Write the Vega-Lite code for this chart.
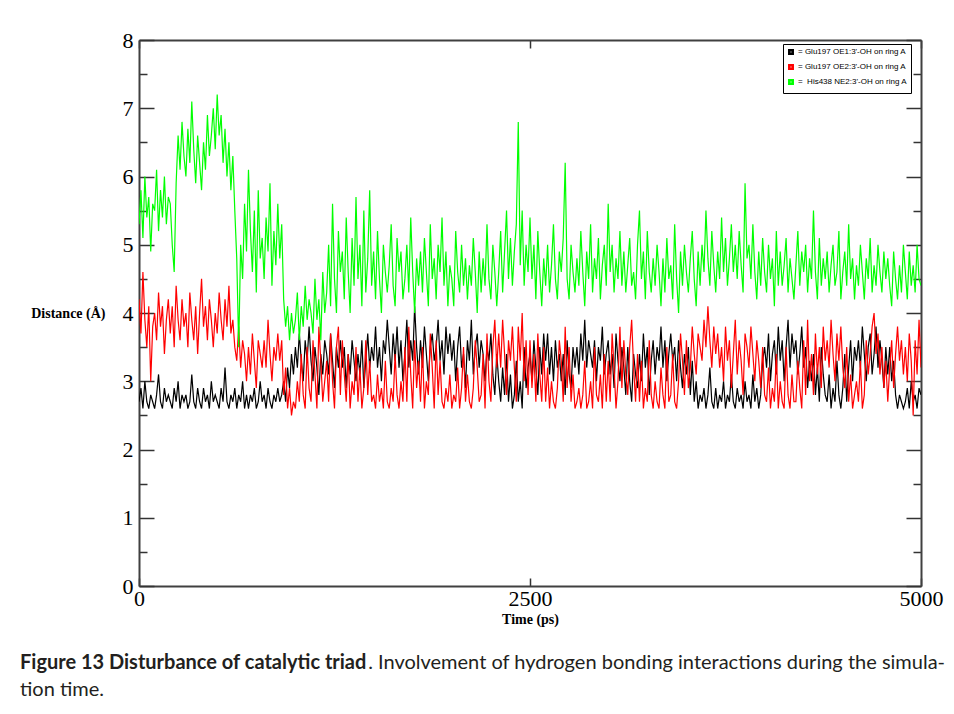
{
"$schema": "https://vega.github.io/schema/vega-lite/v6.json",
"width": 782, "height": 546,
"autosize": {"type": "none"},
"padding": {"left": 139, "top": 40, "right": 33, "bottom": 128},
"background": "white",
"config": {"view": {"stroke": null}, "axis": {"grid": false, "domainColor": "#404040", "domainWidth": 2, "tickColor": "#333333", "tickWidth": 1.5, "labelFont": "Liberation Serif", "labelFontSize": 22, "labelColor": "#000000", "titleFont": "Liberation Serif", "titleFontSize": 14, "titleFontWeight": "bold", "titleColor": "#000000"}},
"title": {"text": "Figure 13 Disturbance of catalytic triad", "subtitle": ["\u200b\u00a0\u00a0\u00a0\u00a0\u00a0\u00a0\u00a0\u00a0\u00a0\u00a0\u00a0\u00a0\u00a0\u00a0\u00a0\u00a0\u00a0\u00a0\u00a0\u00a0\u00a0\u00a0\u00a0\u00a0\u00a0\u00a0\u00a0\u00a0\u00a0\u00a0\u00a0\u00a0\u00a0\u00a0\u00a0\u00a0\u00a0\u00a0\u00a0\u00a0\u00a0\u00a0\u00a0\u00a0\u00a0\u00a0\u00a0\u00a0\u00a0\u00a0\u00a0\u00a0\u00a0\u00a0\u00a0\u00a0\u00a0\u00a0\u00a0\u00a0\u00a0\u00a0\u00a0\u00a0\u00a0\u00a0\u00a0\u00a0. Involvement of hydrogen bonding interactions during the simula-", "tion time."], "orient": "bottom", "anchor": "start", "frame": "group", "dx": -119, "offset": 27, "font": "Lato", "fontSize": 20, "fontWeight": "bold", "color": "#231f20", "subtitleFont": "Lato", "subtitleFontSize": 20, "subtitleFontWeight": "normal", "subtitleColor": "#231f20", "subtitlePadding": -20, "subtitleLineHeight": 27, "baseline": "top"},
"data": {"values": [
{"t":0,"a":2.7,"b":4.2,"c":5.3},{"t":12.5,"a":2.9,"b":3.7,"c":5.8},{"t":25,"a":2.6,"b":4.6,"c":5.1},{"t":37.5,"a":3.0,"b":3.9,"c":6.0},{"t":50,"a":2.7,"b":3.5,"c":5.4},{"t":62.5,"a":2.6,"b":4.1,"c":5.7},{"t":75,"a":2.8,"b":3.0,"c":4.9},{"t":87.5,"a":2.7,"b":3.8,"c":5.6},
{"t":100,"a":2.6,"b":4.0,"c":5.5},{"t":112.5,"a":2.8,"b":3.6,"c":6.1},{"t":125,"a":3.1,"b":4.3,"c":5.2},{"t":137.5,"a":2.7,"b":3.8,"c":5.8},{"t":150,"a":2.6,"b":4.1,"c":5.4},{"t":162.5,"a":2.9,"b":3.4,"c":6.0},{"t":175,"a":2.7,"b":3.9,"c":5.3},{"t":187.5,"a":2.8,"b":4.2,"c":5.7},
{"t":200,"a":2.7,"b":3.7,"c":5.6},{"t":212.5,"a":2.6,"b":4.1,"c":5.0},{"t":225,"a":2.9,"b":3.5,"c":4.6},{"t":237.5,"a":2.7,"b":4.4,"c":5.9},{"t":250,"a":3.0,"b":3.9,"c":6.6},{"t":262.5,"a":2.6,"b":3.6,"c":6.1},{"t":275,"a":2.8,"b":4.2,"c":6.8},{"t":287.5,"a":2.7,"b":3.8,"c":6.3},
{"t":300,"a":2.8,"b":4.0,"c":6.0},{"t":312.5,"a":2.6,"b":3.5,"c":6.7},{"t":325,"a":2.7,"b":4.3,"c":6.2},{"t":337.5,"a":3.1,"b":3.9,"c":7.1},{"t":350,"a":2.7,"b":3.6,"c":6.4},{"t":362.5,"a":2.6,"b":4.1,"c":5.9},{"t":375,"a":2.9,"b":3.4,"c":6.6},{"t":387.5,"a":2.7,"b":4.0,"c":6.2},
{"t":400,"a":2.6,"b":4.5,"c":5.8},{"t":412.5,"a":2.9,"b":3.8,"c":6.5},{"t":425,"a":2.7,"b":4.1,"c":6.1},{"t":437.5,"a":2.8,"b":3.6,"c":6.9},{"t":450,"a":2.6,"b":4.2,"c":6.3},{"t":462.5,"a":3.0,"b":3.9,"c":6.6},{"t":475,"a":2.7,"b":3.5,"c":7.0},{"t":487.5,"a":2.8,"b":4.0,"c":6.4},
{"t":500,"a":2.7,"b":3.7,"c":7.2},{"t":512.5,"a":2.6,"b":4.3,"c":6.6},{"t":525,"a":2.9,"b":3.9,"c":6.9},{"t":537.5,"a":2.7,"b":3.6,"c":6.2},{"t":550,"a":3.2,"b":4.2,"c":6.7},{"t":562.5,"a":2.7,"b":3.8,"c":6.0},{"t":575,"a":2.6,"b":4.4,"c":6.5},{"t":587.5,"a":2.8,"b":3.7,"c":5.8},
{"t":600,"a":2.7,"b":3.9,"c":6.3},{"t":612.5,"a":2.9,"b":3.5,"c":5.5},{"t":625,"a":2.6,"b":3.3,"c":4.8},{"t":637.5,"a":2.8,"b":3.8,"c":3.5},{"t":650,"a":2.7,"b":3.2,"c":5.0},{"t":662.5,"a":3.0,"b":3.6,"c":4.5},{"t":675,"a":2.6,"b":3.4,"c":5.6},{"t":687.5,"a":2.8,"b":3.0,"c":4.9},
{"t":700,"a":2.6,"b":3.5,"c":6.1},{"t":712.5,"a":2.8,"b":3.1,"c":5.2},{"t":725,"a":2.7,"b":3.7,"c":4.6},{"t":737.5,"a":2.9,"b":3.3,"c":5.5},{"t":750,"a":2.6,"b":2.9,"c":4.3},{"t":762.5,"a":2.7,"b":3.6,"c":5.8},{"t":775,"a":3.0,"b":3.4,"c":4.8},{"t":787.5,"a":2.7,"b":3.2,"c":5.1},
{"t":800,"a":2.8,"b":3.6,"c":4.5},{"t":812.5,"a":2.6,"b":3.2,"c":5.4},{"t":825,"a":2.9,"b":3.9,"c":4.9},{"t":837.5,"a":2.7,"b":3.4,"c":5.9},{"t":850,"a":2.6,"b":3.0,"c":4.4},{"t":862.5,"a":2.8,"b":3.5,"c":5.2},{"t":875,"a":2.7,"b":3.3,"c":4.7},{"t":887.5,"a":2.9,"b":3.7,"c":5.6},
{"t":900,"a":2.7,"b":3.3,"c":4.8},{"t":912.5,"a":2.8,"b":3.6,"c":5.3},{"t":925,"a":3.0,"b":2.8,"c":4.2},{"t":937.5,"a":2.7,"b":3.2,"c":3.8},{"t":950,"a":3.2,"b":2.6,"c":4.1},{"t":962.5,"a":2.9,"b":2.9,"c":3.6},{"t":975,"a":3.4,"b":2.5,"c":4.0},{"t":987.5,"a":3.1,"b":2.7,"c":3.7},
{"t":1000,"a":3.5,"b":2.6,"c":3.9},{"t":1012.5,"a":3.2,"b":3.0,"c":4.3},{"t":1025,"a":3.7,"b":2.7,"c":3.6},{"t":1037.5,"a":3.3,"b":3.4,"c":4.1},{"t":1050,"a":3.0,"b":2.8,"c":3.8},{"t":1062.5,"a":3.6,"b":2.6,"c":4.4},{"t":1075,"a":3.3,"b":3.5,"c":3.9},{"t":1087.5,"a":3.8,"b":2.9,"c":4.2},
{"t":1100,"a":3.3,"b":2.7,"c":4.0},{"t":1112.5,"a":3.0,"b":3.6,"c":3.7},{"t":1125,"a":3.5,"b":3.1,"c":4.5},{"t":1137.5,"a":3.2,"b":2.6,"c":3.9},{"t":1150,"a":2.8,"b":3.8,"c":4.2},{"t":1162.5,"a":3.4,"b":3.3,"c":3.6},{"t":1175,"a":3.1,"b":2.7,"c":4.6},{"t":1187.5,"a":3.6,"b":3.0,"c":4.0},
{"t":1200,"a":3.4,"b":3.3,"c":4.3},{"t":1212.5,"a":3.1,"b":2.7,"c":5.0},{"t":1225,"a":3.7,"b":3.7,"c":4.1},{"t":1237.5,"a":3.3,"b":3.0,"c":5.6},{"t":1250,"a":2.9,"b":2.6,"c":4.5},{"t":1262.5,"a":3.5,"b":3.5,"c":4.0},{"t":1275,"a":3.2,"b":3.8,"c":5.2},{"t":1287.5,"a":3.6,"b":2.8,"c":4.6},
{"t":1300,"a":3.2,"b":3.6,"c":4.9},{"t":1312.5,"a":3.5,"b":3.1,"c":4.2},{"t":1325,"a":2.9,"b":2.7,"c":5.4},{"t":1337.5,"a":3.4,"b":3.4,"c":4.6},{"t":1350,"a":3.1,"b":2.6,"c":4.0},{"t":1362.5,"a":3.6,"b":3.0,"c":5.1},{"t":1375,"a":3.3,"b":2.8,"c":4.4},{"t":1387.5,"a":3.0,"b":3.5,"c":5.7},
{"t":1400,"a":3.4,"b":2.7,"c":4.5},{"t":1412.5,"a":3.1,"b":3.2,"c":5.0},{"t":1425,"a":3.6,"b":2.6,"c":4.1},{"t":1437.5,"a":2.9,"b":2.9,"c":5.5},{"t":1450,"a":3.3,"b":3.6,"c":4.3},{"t":1462.5,"a":3.7,"b":2.8,"c":4.8},{"t":1475,"a":3.2,"b":3.3,"c":5.8},{"t":1487.5,"a":3.5,"b":2.7,"c":4.4},
{"t":1500,"a":3.3,"b":2.8,"c":4.9},{"t":1512.5,"a":3.8,"b":2.6,"c":4.2},{"t":1525,"a":3.2,"b":3.1,"c":5.2},{"t":1537.5,"a":3.5,"b":2.7,"c":4.5},{"t":1550,"a":3.0,"b":2.9,"c":4.0},{"t":1562.5,"a":3.6,"b":2.6,"c":5.0},{"t":1575,"a":3.4,"b":3.3,"c":4.6},{"t":1587.5,"a":3.9,"b":2.7,"c":4.3},
{"t":1600,"a":3.5,"b":2.6,"c":4.7},{"t":1612.5,"a":3.1,"b":2.9,"c":5.3},{"t":1625,"a":3.7,"b":2.7,"c":4.4},{"t":1637.5,"a":3.3,"b":3.4,"c":4.1},{"t":1650,"a":3.8,"b":2.8,"c":5.1},{"t":1662.5,"a":3.2,"b":2.6,"c":4.6},{"t":1675,"a":3.6,"b":3.0,"c":4.9},{"t":1687.5,"a":3.0,"b":2.7,"c":4.2},
{"t":1700,"a":3.4,"b":3.5,"c":4.5},{"t":1712.5,"a":3.9,"b":2.7,"c":5.0},{"t":1725,"a":3.2,"b":3.8,"c":4.3},{"t":1737.5,"a":3.6,"b":3.1,"c":5.4},{"t":1750,"a":3.3,"b":2.6,"c":4.6},{"t":1762.5,"a":4.1,"b":3.6,"c":4.0},{"t":1775,"a":3.5,"b":2.9,"c":4.8},{"t":1787.5,"a":3.1,"b":3.3,"c":4.4},
{"t":1800,"a":3.6,"b":2.7,"c":4.9},{"t":1812.5,"a":3.2,"b":3.5,"c":4.3},{"t":1825,"a":3.8,"b":2.6,"c":5.1},{"t":1837.5,"a":3.4,"b":3.0,"c":4.6},{"t":1850,"a":3.0,"b":2.8,"c":4.1},{"t":1862.5,"a":3.5,"b":3.7,"c":5.3},{"t":1875,"a":3.7,"b":3.2,"c":4.5},{"t":1887.5,"a":3.3,"b":2.6,"c":4.8},
{"t":1900,"a":3.5,"b":3.6,"c":4.2},{"t":1912.5,"a":3.9,"b":2.8,"c":5.0},{"t":1925,"a":3.3,"b":3.3,"c":4.6},{"t":1937.5,"a":3.6,"b":2.7,"c":5.4},{"t":1950,"a":3.1,"b":2.6,"c":4.4},{"t":1962.5,"a":3.8,"b":2.9,"c":4.9},{"t":1975,"a":3.4,"b":2.7,"c":4.1},{"t":1987.5,"a":3.7,"b":3.1,"c":4.7},
{"t":2000,"a":3.3,"b":2.6,"c":4.5},{"t":2012.5,"a":3.6,"b":2.8,"c":4.1},{"t":2025,"a":3.0,"b":2.7,"c":5.2},{"t":2037.5,"a":3.5,"b":3.2,"c":4.6},{"t":2050,"a":3.8,"b":2.6,"c":4.3},{"t":2062.5,"a":3.2,"b":2.9,"c":5.0},{"t":2075,"a":3.4,"b":3.5,"c":4.4},{"t":2087.5,"a":2.9,"b":2.7,"c":4.8},
{"t":2100,"a":3.6,"b":3.1,"c":4.2},{"t":2112.5,"a":3.3,"b":2.7,"c":4.7},{"t":2125,"a":3.9,"b":2.6,"c":4.4},{"t":2137.5,"a":3.1,"b":2.9,"c":5.1},{"t":2150,"a":3.5,"b":3.6,"c":4.6},{"t":2162.5,"a":3.7,"b":3.2,"c":4.0},{"t":2175,"a":3.2,"b":2.7,"c":4.9},{"t":2187.5,"a":3.6,"b":2.8,"c":4.3},
{"t":2200,"a":3.4,"b":3.4,"c":4.8},{"t":2212.5,"a":3.0,"b":2.6,"c":4.4},{"t":2225,"a":3.5,"b":3.7,"c":5.3},{"t":2237.5,"a":3.3,"b":3.0,"c":4.5},{"t":2250,"a":3.7,"b":2.7,"c":4.2},{"t":2262.5,"a":3.1,"b":3.5,"c":5.0},{"t":2275,"a":2.8,"b":3.9,"c":4.6},{"t":2287.5,"a":3.4,"b":3.2,"c":4.1},
{"t":2300,"a":3.0,"b":3.7,"c":4.6},{"t":2312.5,"a":2.7,"b":3.2,"c":5.2},{"t":2325,"a":3.2,"b":3.9,"c":4.3},{"t":2337.5,"a":2.8,"b":3.4,"c":4.9},{"t":2350,"a":3.4,"b":2.8,"c":5.5},{"t":2362.5,"a":2.7,"b":3.6,"c":4.5},{"t":2375,"a":3.1,"b":3.3,"c":5.1},{"t":2387.5,"a":2.6,"b":3.8,"c":4.4},
{"t":2400,"a":2.8,"b":3.2,"c":4.9},{"t":2412.5,"a":3.3,"b":2.7,"c":5.3},{"t":2425,"a":2.7,"b":3.8,"c":6.8},{"t":2437.5,"a":3.0,"b":3.3,"c":4.7},{"t":2450,"a":2.6,"b":4.0,"c":5.5},{"t":2462.5,"a":3.5,"b":3.0,"c":4.4},{"t":2475,"a":2.9,"b":3.6,"c":5.0},{"t":2487.5,"a":3.2,"b":2.8,"c":4.6},
{"t":2500,"a":3.4,"b":3.6,"c":5.4},{"t":2512.5,"a":3.0,"b":2.9,"c":4.5},{"t":2525,"a":3.6,"b":3.4,"c":5.0},{"t":2537.5,"a":3.2,"b":2.7,"c":4.2},{"t":2550,"a":2.8,"b":3.7,"c":5.2},{"t":2562.5,"a":3.5,"b":3.1,"c":4.6},{"t":2575,"a":3.1,"b":2.7,"c":4.1},{"t":2587.5,"a":3.7,"b":3.5,"c":4.8},
{"t":2600,"a":3.3,"b":2.7,"c":4.4},{"t":2612.5,"a":3.7,"b":3.2,"c":5.0},{"t":2625,"a":3.1,"b":2.6,"c":4.3},{"t":2637.5,"a":3.5,"b":3.0,"c":4.7},{"t":2650,"a":3.0,"b":2.7,"c":5.3},{"t":2662.5,"a":3.6,"b":2.6,"c":4.5},{"t":2675,"a":3.2,"b":2.9,"c":4.2},{"t":2687.5,"a":3.4,"b":3.6,"c":4.9},
{"t":2700,"a":3.0,"b":3.3,"c":4.6},{"t":2712.5,"a":3.4,"b":2.7,"c":5.1},{"t":2725,"a":2.8,"b":3.8,"c":6.2},{"t":2737.5,"a":3.6,"b":2.9,"c":4.5},{"t":2750,"a":3.1,"b":3.5,"c":4.2},{"t":2762.5,"a":2.9,"b":2.7,"c":5.0},{"t":2775,"a":3.5,"b":3.1,"c":4.6},{"t":2787.5,"a":3.2,"b":2.6,"c":4.3},
{"t":2800,"a":3.5,"b":2.7,"c":4.8},{"t":2812.5,"a":3.1,"b":2.9,"c":4.4},{"t":2825,"a":3.7,"b":2.6,"c":5.2},{"t":2837.5,"a":3.3,"b":2.8,"c":4.6},{"t":2850,"a":3.9,"b":3.3,"c":4.1},{"t":2862.5,"a":3.2,"b":2.6,"c":4.9},{"t":2875,"a":3.6,"b":2.7,"c":4.5},{"t":2887.5,"a":3.4,"b":3.0,"c":5.3},
{"t":2900,"a":3.2,"b":2.6,"c":4.3},{"t":2912.5,"a":3.6,"b":3.5,"c":4.8},{"t":2925,"a":3.0,"b":2.8,"c":4.5},{"t":2937.5,"a":3.5,"b":2.7,"c":5.1},{"t":2950,"a":3.3,"b":3.1,"c":4.2},{"t":2962.5,"a":3.8,"b":2.6,"c":4.7},{"t":2975,"a":3.1,"b":3.4,"c":5.0},{"t":2987.5,"a":3.4,"b":2.7,"c":4.4},
{"t":3000,"a":3.6,"b":3.3,"c":5.6},{"t":3012.5,"a":3.1,"b":2.7,"c":4.6},{"t":3025,"a":3.4,"b":3.7,"c":5.0},{"t":3037.5,"a":2.9,"b":3.2,"c":4.3},{"t":3050,"a":3.7,"b":2.6,"c":4.8},{"t":3062.5,"a":3.3,"b":3.0,"c":4.5},{"t":3075,"a":3.0,"b":3.8,"c":5.2},{"t":3087.5,"a":3.5,"b":2.9,"c":4.4},
{"t":3100,"a":3.2,"b":3.6,"c":4.9},{"t":3112.5,"a":2.8,"b":3.1,"c":4.3},{"t":3125,"a":3.5,"b":2.8,"c":4.7},{"t":3137.5,"a":3.0,"b":3.5,"c":5.1},{"t":3150,"a":2.7,"b":3.9,"c":4.4},{"t":3162.5,"a":3.4,"b":3.2,"c":4.6},{"t":3175,"a":3.1,"b":2.7,"c":4.2},{"t":3187.5,"a":2.9,"b":3.4,"c":5.0},
{"t":3200,"a":3.4,"b":2.7,"c":5.5},{"t":3212.5,"a":3.0,"b":3.3,"c":4.5},{"t":3225,"a":3.7,"b":2.6,"c":4.9},{"t":3237.5,"a":3.2,"b":2.9,"c":4.2},{"t":3250,"a":3.5,"b":2.7,"c":5.2},{"t":3262.5,"a":2.8,"b":3.6,"c":4.6},{"t":3275,"a":3.3,"b":2.8,"c":4.3},{"t":3287.5,"a":3.6,"b":2.6,"c":4.8},
{"t":3300,"a":3.1,"b":3.0,"c":4.4},{"t":3312.5,"a":3.5,"b":2.7,"c":5.0},{"t":3325,"a":3.3,"b":2.6,"c":4.6},{"t":3337.5,"a":3.8,"b":3.2,"c":4.1},{"t":3350,"a":3.2,"b":2.8,"c":4.8},{"t":3362.5,"a":3.6,"b":2.6,"c":4.3},{"t":3375,"a":3.0,"b":3.5,"c":5.1},{"t":3387.5,"a":3.4,"b":2.7,"c":4.5},
{"t":3400,"a":3.7,"b":2.8,"c":4.7},{"t":3412.5,"a":3.3,"b":3.4,"c":4.2},{"t":3425,"a":3.5,"b":2.7,"c":5.3},{"t":3437.5,"a":3.0,"b":2.6,"c":4.5},{"t":3450,"a":3.6,"b":3.0,"c":4.0},{"t":3462.5,"a":3.2,"b":3.7,"c":4.9},{"t":3475,"a":2.9,"b":3.3,"c":4.4},{"t":3487.5,"a":3.4,"b":2.8,"c":5.0},
{"t":3500,"a":3.1,"b":3.6,"c":4.6},{"t":3512.5,"a":3.5,"b":2.9,"c":4.3},{"t":3525,"a":2.8,"b":3.2,"c":4.8},{"t":3537.5,"a":3.3,"b":3.8,"c":5.2},{"t":3550,"a":2.7,"b":3.4,"c":4.5},{"t":3562.5,"a":3.0,"b":3.1,"c":4.1},{"t":3575,"a":2.6,"b":3.7,"c":4.9},{"t":3587.5,"a":2.8,"b":3.5,"c":4.4},
{"t":3600,"a":2.7,"b":3.3,"c":5.0},{"t":3612.5,"a":2.9,"b":3.9,"c":4.6},{"t":3625,"a":2.6,"b":3.5,"c":5.5},{"t":3637.5,"a":2.8,"b":4.1,"c":4.8},{"t":3650,"a":3.2,"b":3.6,"c":4.4},{"t":3662.5,"a":2.7,"b":3.2,"c":5.2},{"t":3675,"a":2.6,"b":3.8,"c":4.7},{"t":3687.5,"a":2.9,"b":3.4,"c":4.3},
{"t":3700,"a":2.6,"b":3.7,"c":4.9},{"t":3712.5,"a":2.8,"b":3.2,"c":4.5},{"t":3725,"a":2.7,"b":3.5,"c":5.4},{"t":3737.5,"a":3.0,"b":3.0,"c":4.6},{"t":3750,"a":2.6,"b":3.8,"c":5.1},{"t":3762.5,"a":2.8,"b":3.3,"c":4.4},{"t":3775,"a":2.7,"b":3.6,"c":4.8},{"t":3787.5,"a":3.1,"b":2.9,"c":5.3},
{"t":3800,"a":2.7,"b":3.4,"c":4.6},{"t":3812.5,"a":2.6,"b":3.9,"c":5.0},{"t":3825,"a":2.9,"b":3.1,"c":4.5},{"t":3837.5,"a":2.7,"b":3.6,"c":5.2},{"t":3850,"a":2.8,"b":3.3,"c":4.7},{"t":3862.5,"a":2.6,"b":2.8,"c":4.3},{"t":3875,"a":3.0,"b":3.7,"c":5.9},{"t":3887.5,"a":2.7,"b":3.5,"c":4.8},
{"t":3900,"a":2.8,"b":3.2,"c":5.0},{"t":3912.5,"a":2.6,"b":3.8,"c":4.5},{"t":3925,"a":3.1,"b":3.4,"c":5.3},{"t":3937.5,"a":2.7,"b":3.0,"c":4.6},{"t":3950,"a":2.9,"b":3.6,"c":4.2},{"t":3962.5,"a":2.6,"b":3.3,"c":4.9},{"t":3975,"a":2.8,"b":2.9,"c":4.4},{"t":3987.5,"a":3.3,"b":3.5,"c":5.1},
{"t":4000,"a":3.5,"b":2.8,"c":4.6},{"t":4012.5,"a":3.2,"b":2.7,"c":4.3},{"t":4025,"a":3.7,"b":3.2,"c":5.0},{"t":4037.5,"a":3.0,"b":2.6,"c":4.5},{"t":4050,"a":3.4,"b":2.9,"c":4.8},{"t":4062.5,"a":3.6,"b":2.7,"c":4.1},{"t":4075,"a":3.1,"b":3.4,"c":5.2},{"t":4087.5,"a":3.8,"b":2.6,"c":4.4},
{"t":4100,"a":3.3,"b":3.0,"c":4.9},{"t":4112.5,"a":3.6,"b":2.7,"c":4.4},{"t":4125,"a":3.0,"b":2.6,"c":4.7},{"t":4137.5,"a":3.5,"b":3.5,"c":5.1},{"t":4150,"a":3.9,"b":2.8,"c":4.3},{"t":4162.5,"a":3.2,"b":2.6,"c":4.8},{"t":4175,"a":3.7,"b":3.1,"c":4.5},{"t":4187.5,"a":3.4,"b":2.7,"c":4.2},
{"t":4200,"a":3.6,"b":2.7,"c":4.7},{"t":4212.5,"a":3.1,"b":3.3,"c":5.2},{"t":4225,"a":3.4,"b":2.9,"c":4.4},{"t":4237.5,"a":3.8,"b":2.6,"c":4.9},{"t":4250,"a":3.2,"b":3.6,"c":4.6},{"t":4262.5,"a":3.5,"b":2.8,"c":5.0},{"t":4275,"a":2.9,"b":3.9,"c":4.3},{"t":4287.5,"a":3.3,"b":3.0,"c":4.8},
{"t":4300,"a":3.0,"b":3.4,"c":4.5},{"t":4312.5,"a":3.4,"b":2.8,"c":5.5},{"t":4325,"a":2.8,"b":3.7,"c":4.6},{"t":4337.5,"a":3.2,"b":3.1,"c":4.2},{"t":4350,"a":2.7,"b":3.5,"c":5.1},{"t":4362.5,"a":3.5,"b":2.9,"c":4.4},{"t":4375,"a":3.1,"b":3.8,"c":4.8},{"t":4387.5,"a":2.8,"b":3.3,"c":4.5},
{"t":4400,"a":2.7,"b":3.6,"c":4.9},{"t":4412.5,"a":3.1,"b":3.2,"c":4.3},{"t":4425,"a":2.6,"b":3.9,"c":4.7},{"t":4437.5,"a":2.9,"b":3.4,"c":5.0},{"t":4450,"a":2.7,"b":3.0,"c":4.4},{"t":4462.5,"a":3.3,"b":3.7,"c":4.6},{"t":4475,"a":2.8,"b":3.3,"c":5.2},{"t":4487.5,"a":2.6,"b":3.8,"c":4.2},
{"t":4500,"a":2.9,"b":3.2,"c":4.6},{"t":4512.5,"a":3.4,"b":2.9,"c":4.9},{"t":4525,"a":2.7,"b":3.5,"c":4.4},{"t":4537.5,"a":3.2,"b":2.7,"c":5.3},{"t":4550,"a":3.6,"b":3.1,"c":4.5},{"t":4562.5,"a":3.0,"b":2.6,"c":4.8},{"t":4575,"a":3.5,"b":2.8,"c":4.2},{"t":4587.5,"a":3.3,"b":3.0,"c":4.7},
{"t":4600,"a":3.6,"b":2.7,"c":4.4},{"t":4612.5,"a":3.2,"b":3.3,"c":5.0},{"t":4625,"a":3.8,"b":2.6,"c":4.6},{"t":4637.5,"a":3.4,"b":2.8,"c":4.2},{"t":4650,"a":3.0,"b":3.6,"c":4.8},{"t":4662.5,"a":3.5,"b":3.1,"c":4.5},{"t":4675,"a":3.7,"b":3.4,"c":5.1},{"t":4687.5,"a":3.1,"b":3.8,"c":4.3},
{"t":4700,"a":3.4,"b":4.0,"c":4.7},{"t":4712.5,"a":3.8,"b":3.4,"c":4.4},{"t":4725,"a":3.2,"b":3.7,"c":5.0},{"t":4737.5,"a":3.6,"b":3.1,"c":4.6},{"t":4750,"a":3.3,"b":3.5,"c":4.3},{"t":4762.5,"a":2.9,"b":2.9,"c":4.9},{"t":4775,"a":3.5,"b":3.3,"c":4.5},{"t":4787.5,"a":3.1,"b":2.7,"c":4.8},
{"t":4800,"a":3.5,"b":3.2,"c":4.4},{"t":4812.5,"a":3.0,"b":3.6,"c":4.1},{"t":4825,"a":3.3,"b":2.9,"c":4.9},{"t":4837.5,"a":2.8,"b":3.4,"c":4.5},{"t":4850,"a":2.6,"b":3.8,"c":4.2},{"t":4862.5,"a":2.8,"b":3.3,"c":4.7},{"t":4875,"a":2.7,"b":3.6,"c":4.3},{"t":4887.5,"a":2.6,"b":3.1,"c":5.0},
{"t":4900,"a":2.7,"b":3.5,"c":4.6},{"t":4912.5,"a":2.9,"b":3.0,"c":4.2},{"t":4925,"a":2.6,"b":3.7,"c":4.9},{"t":4937.5,"a":3.0,"b":3.3,"c":4.4},{"t":4950,"a":2.7,"b":2.5,"c":4.7},{"t":4962.5,"a":2.8,"b":3.6,"c":4.3},{"t":4975,"a":2.6,"b":3.1,"c":5.0},{"t":4987.5,"a":2.9,"b":3.9,"c":4.5},
{"t":5000,"a":2.8,"b":3.2,"c":4.4}
]},
"transform": [{"fold": ["a", "b", "c"], "as": ["s", "v"]}],
"layer": [
 {"mark": {"type": "line", "strokeWidth": 1.2, "clip": true},
  "encoding": {
   "x": {"field": "t", "type": "quantitative", "scale": {"domain": [0, 5000], "nice": false, "zero": false},
     "axis": {"orient": "bottom", "values": [0, 2500, 5000], "format": "d", "tickSize": -8, "labelPadding": 10, "labelFlush": false, "labelOverlap": false, "title": "Time (ps)", "titleY": 33, "titleBaseline": "middle"}},
   "y": {"field": "v", "type": "quantitative", "scale": {"domain": [0, 8], "nice": false, "zero": false},
     "axis": {"orient": "left", "values": [0, 0.5, 1, 1.5, 2, 2.5, 3, 3.5, 4, 4.5, 5, 5.5, 6, 6.5, 7, 7.5, 8], "tickSize": {"condition": {"test": "datum.value % 1 === 0", "value": -15}, "value": -8}, "labelPadding": 21, "labelExpr": "datum.value % 1 === 0 ? format(datum.value, 'd') : ''", "labelFlush": false, "labelOverlap": false, "title": "Distance (Å)", "titleAngle": 0, "titleAlign": "right", "titleBaseline": "middle", "titleX": -34, "titleY": 273}},
   "color": {"field": "s", "type": "nominal", "scale": {"domain": ["a", "b", "c"], "range": ["#000000", "#ff0000", "#00ff00"]},
     "legend": {"orient": "none", "legendX": 644, "legendY": 4, "title": null, "direction": "vertical", "strokeColor": "#000000", "fillColor": "#ffffff", "padding": 4, "symbolType": "square", "symbolSize": 12, "symbolStrokeWidth": 2.5, "labelFont": "Liberation Sans", "labelFontSize": 8, "labelColor": "#000000", "rowPadding": 1, "labelOffset": 3,
       "labelExpr": "datum.value == \"a\" ? \"= Glu197 OE1:3'-OH on ring A\" : datum.value == \"b\" ? \"= Glu197 OE2:3'-OH on ring A\" : \"=\u00a0 His438 NE2:3'-OH on ring A\""}}
  }},
 {"mark": {"type": "line", "opacity": 0},
  "encoding": {
   "x": {"field": "t", "type": "quantitative", "axis": {"orient": "top", "values": [0, 2500, 5000], "tickSize": -8, "labels": false, "title": null}},
   "y": {"field": "v", "type": "quantitative", "axis": {"orient": "right", "values": [0, 0.5, 1, 1.5, 2, 2.5, 3, 3.5, 4, 4.5, 5, 5.5, 6, 6.5, 7, 7.5, 8], "tickSize": {"condition": {"test": "datum.value % 1 === 0", "value": -15}, "value": -8}, "labels": false, "title": null}},
   "detail": {"field": "s", "type": "nominal"}
  }}
],
"resolve": {"axis": {"x": "independent", "y": "independent"}}
}
